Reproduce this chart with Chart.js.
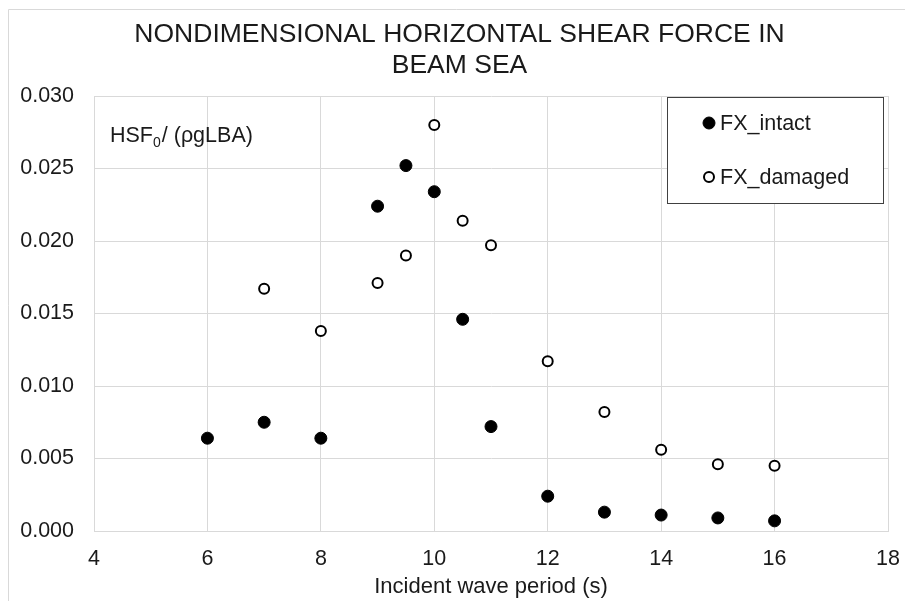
<!DOCTYPE html>
<html>
<head>
<meta charset="utf-8">
<script src="https://cdn.jsdelivr.net/npm/chart.js@4.4.1/dist/chart.umd.min.js"></script>
<style>
  body { margin: 0; background: #fff; }
  #wrap { width: 905px; height: 601px; }
</style>
</head>
<body>
<div id="wrap"><canvas id="chart1" width="905" height="601"></canvas></div>
<script>
// wave period (s) and nondimensional shear force
const periodsIntact = [6, 7, 8, 9, 9.5, 10, 10.5, 11, 12, 13, 14, 15, 16];
const fxIntact = [0.0064, 0.0075, 0.0064, 0.0224, 0.0252, 0.0234, 0.0146, 0.0072, 0.0024, 0.0013, 0.0011, 0.0009, 0.0007];
const periodsDamaged = [7, 8, 9, 9.5, 10, 10.5, 11, 12, 13, 14, 15, 16];
const fxDamaged = [0.0167, 0.0138, 0.0171, 0.0190, 0.0280, 0.0214, 0.0197, 0.0117, 0.0082, 0.0056, 0.0046, 0.0045];
const seriesLabels = ['FX_intact', 'FX_damaged'];
const titleLines = ['NONDIMENSIONAL HORIZONTAL SHEAR FORCE IN', 'BEAM SEA'];

const FONT = '"Liberation Sans", Arial, sans-serif';
const TXT = '#1a1a1a';
const GRID = '#d9d9d9';

function toPoints(xs, ys) {
    return xs.map((x, i) => ({ x: x, y: ys[i] }));
}

// frame, legend box and y label inside the plot
const extras = {
    id: 'extras',
    afterLayout(chart) {
        // title sits a little right of the canvas centre in the original
        if (chart.titleBlock) {
            chart.titleBlock.left += 7;
            chart.titleBlock.right += 7;
        }
    },
    beforeDraw(chart) {
        const ctx = chart.ctx;
        ctx.save();
        ctx.strokeStyle = GRID;
        ctx.lineWidth = 1;
        ctx.beginPath();
        ctx.moveTo(8.5, 601);
        ctx.lineTo(8.5, 9.5);
        ctx.lineTo(905, 9.5);
        ctx.stroke();
        ctx.restore();
    },
    afterDraw(chart) {
        const ctx = chart.ctx;
        ctx.save();
        // y quantity label
        ctx.fillStyle = TXT;
        ctx.textBaseline = 'alphabetic';
        ctx.font = '21.5px ' + FONT;
        let x = 110;
        const base = 142;
        ctx.fillText('HSF', x, base);
        x += ctx.measureText('HSF').width;
        ctx.font = '14px ' + FONT;
        ctx.fillText('0', x, base + 5);
        x += ctx.measureText('0').width + 1;
        ctx.font = '21.5px ' + FONT;
        ctx.fillText('/ (\u03C1gLBA)', x, base);

        // legend
        ctx.fillStyle = '#fff';
        ctx.fillRect(667.5, 97.5, 216, 106);
        ctx.strokeStyle = '#404040';
        ctx.lineWidth = 1;
        ctx.strokeRect(667.5, 97.5, 216, 106);
        const rows = [123, 177];
        chart.data.datasets.forEach((ds, i) => {
            ctx.beginPath();
            ctx.arc(709, rows[i], ds.pointRadius, 0, Math.PI * 2);
            ctx.fillStyle = ds.pointBackgroundColor;
            ctx.fill();
            ctx.lineWidth = ds.pointBorderWidth;
            ctx.strokeStyle = ds.pointBorderColor;
            ctx.stroke();
            ctx.fillStyle = TXT;
            ctx.font = '21.5px ' + FONT;
            ctx.textBaseline = 'middle';
            ctx.fillText(ds.label, 720, rows[i] + 1);
        });
        ctx.restore();
    }
};

var ctx = document.getElementById('chart1').getContext('2d');
var myChart = new Chart(ctx, {
    type: 'scatter',
    data: {
        datasets: [{
            label: seriesLabels[0],
            data: toPoints(periodsIntact, fxIntact),
            pointRadius: 6,
            pointBackgroundColor: '#000',
            pointBorderColor: '#000',
            pointBorderWidth: 1
        }, {
            label: seriesLabels[1],
            data: toPoints(periodsDamaged, fxDamaged),
            pointRadius: 5,
            pointBackgroundColor: '#fff',
            pointBorderColor: '#000',
            pointBorderWidth: 2
        }]
    },
    options: {
        responsive: false,
        animation: false,
        layout: { padding: { left: 0, right: 0, top: 0, bottom: 0 } },
        plugins: {
            legend: { display: false },
            tooltip: { enabled: false },
            title: {
                display: true,
                text: titleLines,
                color: TXT,
                font: { family: FONT, size: 26.5, weight: 'normal', lineHeight: 1.17 },
                padding: { top: 19.5, bottom: 14.5 }
            }
        },
        scales: {
            x: {
                type: 'linear',
                min: 4,
                max: 18,
                ticks: { stepSize: 2, color: TXT, padding: 15, font: { family: FONT, size: 21.5 } },
                grid: { color: GRID, drawTicks: false },
                border: { color: GRID },
                title: {
                    display: true,
                    text: 'Incident wave period (s)',
                    color: TXT,
                    font: { family: FONT, size: 22 },
                    padding: { top: 0, bottom: 1 }
                },
                afterFit: function(scale) {
                    scale.height = 70;
                    scale.paddingLeft = 0;
                    scale.paddingRight = 17;
                }
            },
            y: {
                min: 0,
                max: 0.03,
                ticks: {
                    stepSize: 0.005,
                    color: TXT,
                    padding: 20,
                    font: { family: FONT, size: 21.5 },
                    callback: v => v.toFixed(3)
                },
                grid: { color: GRID, drawTicks: false },
                border: { color: GRID },
                afterFit: function(scale) { scale.width = 94; }
            }
        }
    },
    plugins: [extras]
});
</script>
</body>
</html>
